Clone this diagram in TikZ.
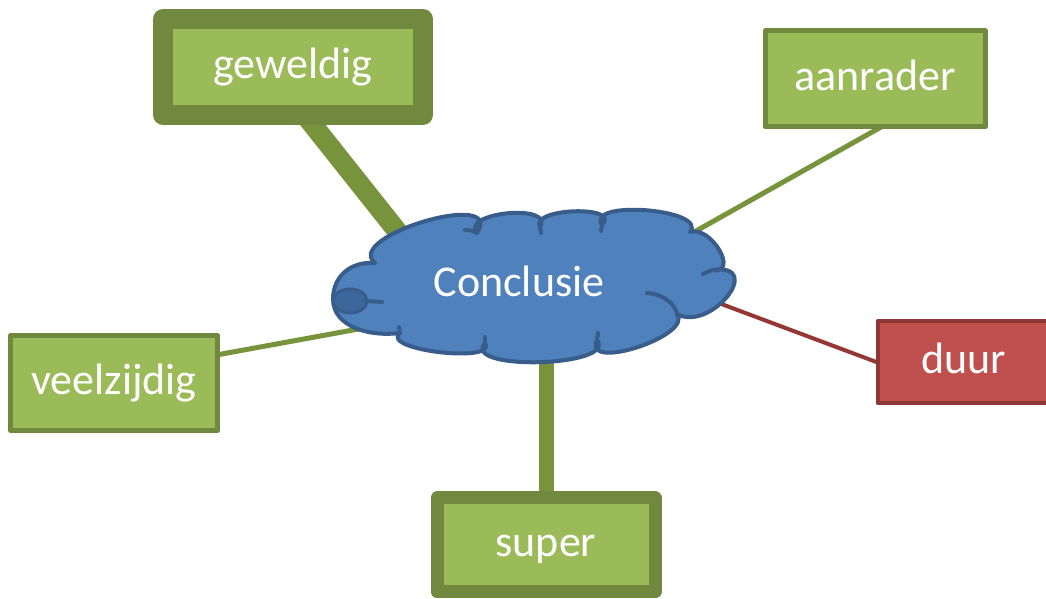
\documentclass[tikz,border=0pt]{standalone}
\usepackage{fontspec}
\setmainfont{Carlito}
\usetikzlibrary{calc,backgrounds}
\definecolor{cloudfill}{HTML}{4F81BD}
\definecolor{cloudline}{HTML}{385D8A}
\definecolor{bubblefill}{HTML}{3B679C}
\definecolor{boxfill}{HTML}{9BBB59}
\definecolor{boxline}{HTML}{71893F}
\definecolor{linkgreen}{HTML}{77933C}
\definecolor{redfill}{HTML}{C0504D}
\definecolor{redline}{HTML}{8C3836}
\definecolor{linkred}{HTML}{953735}
% one puff of the cloud: from #1 to #2, bulging through #3;
% #4 = 1/3 + roundness, #5 = 2/3 + roundness
\newcommand\puff[5]{.. controls ($#4*(#1)+1.333*(#3)-#5*(#2)$) and ($#4*(#2)+1.333*(#3)-#5*(#1)$) .. (#2)}
\begin{document}
\begin{tikzpicture}[x=1pt,y=1pt,
  label font/.style={font=\fontsize{44}{50}\selectfont},
  box/.style={draw=boxline, fill=boxfill, text=white, inner sep=0pt,
    text height=33pt, text depth=9pt, line join=round, label font},
  redbox/.style={box, draw=redline, fill=redfill},
  link/.style={draw=linkgreen},
  redlink/.style={draw=linkred},
  inner arc/.style={draw=cloudline, line width=4pt, line cap=round}]
\useasboundingbox (0,0) rectangle (1046,599);

% cloud outline: dips between the puffs and the puff tops
\coordinate (A) at (375,336);
\coordinate (B) at (477,366);
\coordinate (C) at (540,372);
\coordinate (D) at (602,374);
\coordinate (E) at (690,367);
\coordinate (F) at (712,329);
\coordinate (G) at (677,285);
\coordinate (H) at (597,259);
\coordinate (I) at (485,256);
\coordinate (J) at (400,266);
\coordinate (L) at (333,300);
\coordinate (mAB) at (425,378);
\coordinate (mBC) at (508,386);
\coordinate (mCD) at (575,388);
\coordinate (mDE) at (647,389);
\coordinate (mEF) at (720,349);
\coordinate (mFG) at (728,303);
\coordinate (mGH) at (638,252);
\coordinate (mHI) at (540,237);
\coordinate (mIJ) at (440,247);

% ends of the connectors inside the cloud
\coordinate (gEnd) at (405,358);
\coordinate (aEnd) at (680,359);
\coordinate (vEnd) at (375,273);
\coordinate (dEnd) at (700,303);
\coordinate (sEnd) at (546,250);

% the cloud
\draw[fill=cloudfill, draw=cloudline, line width=4pt, line join=round]
  (A) \puff{A}{B}{mAB}{0.633}{0.967} \puff{B}{C}{mBC}{0.583}{0.917}
      \puff{C}{D}{mCD}{0.583}{0.917} \puff{D}{E}{mDE}{0.533}{0.867}
      \puff{E}{F}{mEF}{0.483}{0.817} \puff{F}{G}{mFG}{0.633}{0.967}
      \puff{G}{H}{mGH}{0.533}{0.867} \puff{H}{I}{mHI}{0.533}{0.867}
      \puff{I}{J}{mIJ}{0.533}{0.867}
      .. controls (370,262) and (333,272) .. (L)
      .. controls (333,322) and (350,338) .. (A) -- cycle;
\draw[inner arc] (B) to[bend right=15] ++(-12,3);
\draw[inner arc] (C) -- ++(1,-6);
\draw[inner arc] (D) -- ++(-1,-6);
\draw[inner arc] (F) -- ++(-9,-4);
\draw[inner arc] (G) .. controls (675,296) and (662,305) .. (647,306);
\draw[inner arc] (H) -- ++(1,7);
\draw[inner arc] (I) -- ++(0,6);
\draw[inner arc] (J) -- ++(-1,6);
\draw[fill=bubblefill, draw=cloudline, line width=3pt] (350,298) ellipse [x radius=17, y radius=12];
\draw[inner arc] (366,298) -- (382,297);
\node[label font, text=white, anchor=base] (concl) at (519,302) {Conclusie};

% the boxes
\node[box, line width=20pt, minimum width=260pt, minimum height=96pt] (geweldig) at (293,532) {geweldig};
\node[box, line width=5pt, minimum width=220pt, minimum height=96pt] (aanrader) at (875,520) {aanrader};
\node[box, line width=5pt, minimum width=207pt, minimum height=95pt] (veelzijdig) at (114,216) {veelzijdig};
\node[redbox, line width=4pt, minimum width=173pt, minimum height=82pt] (duur) at (964,237) {duur};
\node[box, line width=13pt, minimum width=218pt, minimum height=94pt] (super) at (546,54) {super};

% connectors, behind the cloud and the boxes
\begin{pgfonlayer}{background}
\draw[link, line width=20pt] ([shift={(4,-38)}]geweldig.center) -- (gEnd);
\draw[link, line width=5pt] ([shift={(31,-34)}]aanrader.center) -- (aEnd);
\draw[link, line width=5pt] ([shift={(86,25)}]veelzijdig.center) -- (vEnd);
\draw[redlink, line width=4pt] ([shift={(-69,-7)}]duur.center) -- (dEnd);
\draw[link, line width=15pt] (super.center) -- (sEnd);
\end{pgfonlayer}
\end{tikzpicture}
\end{document}
